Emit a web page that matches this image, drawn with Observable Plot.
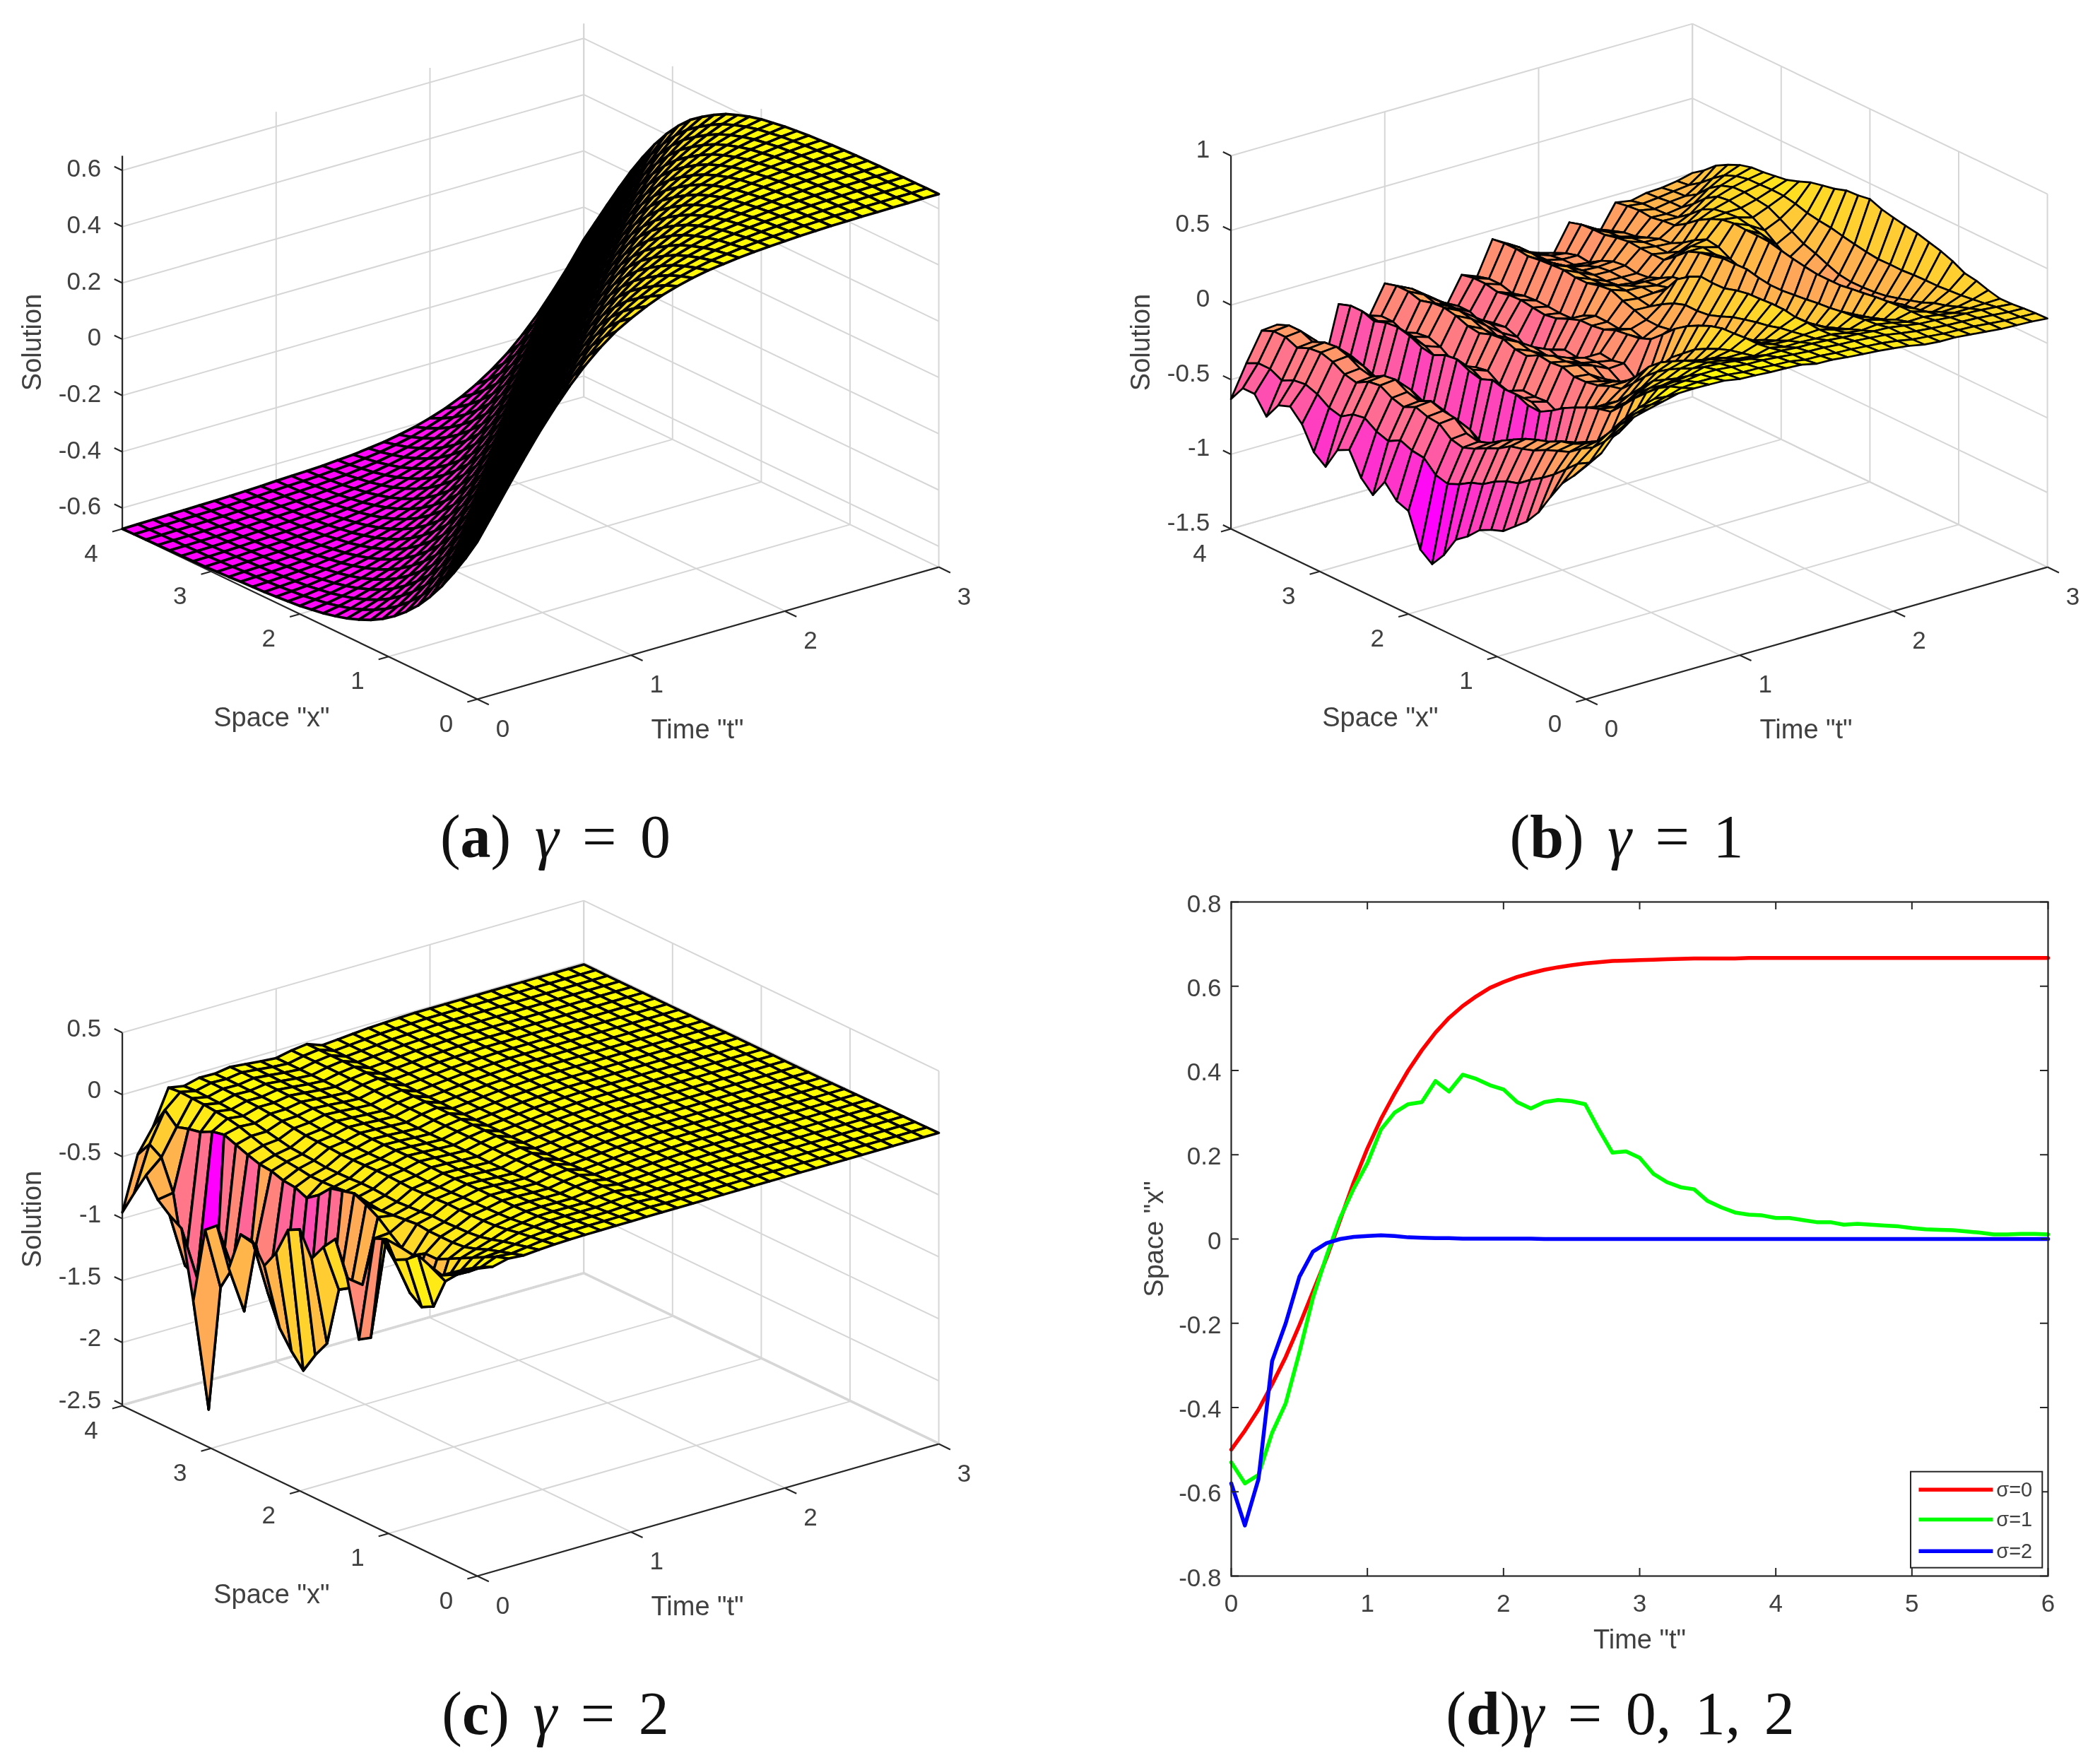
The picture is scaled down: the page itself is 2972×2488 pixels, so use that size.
<!DOCTYPE html>
<html><head><meta charset="utf-8">
<script src="https://cdn.jsdelivr.net/npm/d3@7"></script>
<script src="https://cdn.jsdelivr.net/npm/@observablehq/plot@0.6"></script>
<style>
html,body{margin:0;padding:0;background:#fff}
#page{position:relative;width:2972px;height:2488px;overflow:hidden;background:#fff}
#page svg{position:absolute;overflow:visible;filter:blur(.6px)}
.cap{position:absolute;transform:translate(-50%,-50%);font-family:"Liberation Serif",serif;font-size:86px;color:#111;white-space:nowrap;word-spacing:12px}
</style></head><body><div id="page"></div>
<script>
// Values below are estimates. The 31x31 surfaces are assembled from
// these read profiles (edge rows, wave-front profile, ridge offsets), not from every vertex.
const tTicks=[0,1,2,3], xTicks=[0,1,2,3,4];
const zTicksA=[-0.6,-0.4,-0.2,0,0.2,0.4,0.6], zTicksB=[-1.5,-1,-0.5,0,0.5,1], zTicksC=[-2.5,-2,-1.5,-1,-0.5,0,0.5];

// (a) height along the travelling front, indexed by t-index minus x-index
const frontA=[-.674,-.673,-.672,-.671,-.670,-.669,-.668,-.667,-.665,-.663,-.660,-.658,-.656,-.653,-.649,-.645,-.638,-.631,-.621,-.609,-.593,-.574,-.550,-.520,-.484,-.442,-.391,-.333,-.266,-.194,-.115,-.033,.050,.131,.209,.280,.345,.402,.451,.492,.523,.55,.573,.590,.604,.615,.622,.629,.634,.638,.641,.644,.646,.648,.649,.650,.650,.651,.651,.652,.652];

// (b) ridge level per time step (x=4 edge), first row (t=0), front profile and weights
const ridgeB=[-.63,-.42,-.23,-.22,-.32,-.45,-.6,-.2,-.3,-.34,-.15,-.2,-.28,-.36,-.42,-.24,-.28,-.06,-.12,-.2,-.24,-.27,-.1,-.18,-.26,-.08,-.12,-.1,-.09,-.07,0];
const firstRowB=[.06,-.04,-.13,-.26,-.40,-.50,-.57,-.64,-.67,-.71,-.79,-.85,-.99,-1.09,-1.03,-.81,-.78,-.69,-.817,-.74,-.59,-.63,-.78,-.72,-.57,-.49,-.52,-.634,-.52,-.52,-.63];
const ridgeWeightB=[1,1,1,1,1,1,1,1,1,1,1,1,1,1,1,1,1,1,1,1,1,1,.95,.9,.85,.75,.65,.55,.45,.35,.28,.22,.18,.14,.12,.1,.08,.07,.06,.05,.05,.04,.04,.03,.03,.03,.02,.02,.02,.02,.02,.02,.02,.02,.01,.01,.01,.01,.01,.01,.01];
const frontB=[0,0,0,0,0,0,0,0,0,0,0,0,0,0,0,0,0,0,0,0,0,0,0,.01,.01,.01,.01,.01,.0,.0,0,.05,.12,.17,.2,.22,.23,.24,.235,.225,.215,.21,.2,.19,.18,.175,.165,.16,.15,.14,.125,.11,.10,.09,.085,.08,.07,.06,.055,.05,.04];
const rowWeightB=[1,.35,.3,.3,.35,.45,.6,.25,.3,.35,.2,.2,.25,.3,.35,.15,.2,.1,.12,.15,.18,.2,.08,.1,.12,.06,.06,.05,.05,.05,.05];
const nearEdgeB=[.12,.11,.1,.09,.07,.06,.05,.04,.03,.02,.01,0,0,0,0,0,0,0,0,0,0,0,0,0,0,0,0,0,0,0,0];
const swellB=[0,0,0,0,0,0,0,0,0,0,-.1,-.05,-.15,-.2,-.1,0,-.15,-.25,-.1,.05,-.1,-.2,-.05,-.15,-.25,-.05,-.15,-.3,-.2,-.04,.2];
const swellAcrossB=[0,0,0,0,.05,.15,.3,.4,.6,.75,.85,.95,1,1.05,1.1,1.15,1.05,.95,.8,.65,.5,.3,.15,.05,0,0,0,0,0,0,0];
const swellFrontB=[0,0,0,0,0,0,0,0,0,0,0,0,0,0,0,0,0,0,0,0,0,0,0,0,0,0,0,0,.1,.2,.35,.5,.65,.8,.9,1,1,1,1,1,1,1,1,1,1,1,1,1,1,1,1,1,1,1,1,1,1,1,1,1,1];

// (c) first rows, read vertex by vertex, then plateau levels
const row0C=[-.03,-.08,-.15,-.22,-.19,-.15,-.23,-.28,-.16,-1.0,-1.06,-.61,-.34,-.45,-.59,-.40,-.45,-.68,-.83,-.68,-.67,-.99,-.69,-.77,-1.39,-.85,-.79,-.71,-.56,-.75,-.95];
const row1C=[-.05,-.1,-.18,-.25,-.35,-.6,-.65,-.58,-.42,-.24,-.28,-.7,-.77,-.83,-1.31,-1.45,-1.62,-1.51,-1.37,-1.13,-.79,-1.37,-1.07,-1.27,-2.3,-1.28,-1.23,-.69,-.45,-.39,-.52];
const row2C=[-.02,-.05,-.1,-.15,-.2,-.25,-.3,-.3,-.36,-.345,-.27,-.19,-.135,-.09,-.115,-.14,-.24,-.31,-.27,-.26,-.23,-.22,-.19,-.155,-.12,-.14,-.19,-.21,-.24,-.15,-.33];
const row3C=[-.03,-.06,-.09,-.12,-.16,-.19,-.2,-.2,-.2,-.19,-.2,-.21,-.22,-.21,-.2,-.2,-.21,-.215,-.215,-.2,-.19,-.18,-.15,-.12,-.09,-.07,-.06,-.05,-.045,-.04,-.05];
const plateauC=[0,0,0,0,-.04,-.02,-.03,-.015,-.03,-.045,-.055,-.03,-.015,-.06,-.05,-.04,-.03,-.025,-.02,-.015,-.015,-.015,-.015,-.015,-.015,-.015,-.015,-.015,-.015,-.015,-.015];
const fadeC=[1,1,1,1,.65,.42,.28,.2,.15,.12,.1,.08,.06,.05,.04,.03,.02,.01,0,0,0,0,0,0,0,0,0,0,0,0,0];
const plateauAcrossC=[0,.1,.2,.3,.4,.5,.6,.7,.8,.9,1,1,1,1,1,1,1,1,1,1,1,1,1,1,1,1,1,1,1,1,1];

// (d) curves at t = 0, 0.1, ... 6
const sigma0=[-.5,-.455,-.405,-.345,-.28,-.205,-.125,-.045,.045,.135,.215,.285,.345,.40,.448,.49,.525,.553,.576,.596,.61,.622,.631,.639,.645,.65,.654,.657,.66,.661,.662,.663,.664,.665,.666,.666,.666,.666,.667,.667,.667,.667,.667,.667,.667,.667,.667,.667,.667,.667,.667,.667,.667,.667,.667,.667,.667,.667,.667,.667,.667];
const sigma1=[-.53,-.58,-.56,-.46,-.39,-.27,-.14,-.04,.05,.12,.18,.26,.30,.32,.325,.375,.35,.39,.38,.365,.355,.325,.31,.325,.33,.327,.32,.26,.205,.208,.193,.155,.135,.123,.118,.09,.075,.063,.058,.056,.05,.05,.045,.04,.04,.034,.036,.034,.032,.03,.026,.023,.022,.021,.018,.015,.011,.011,.012,.012,.011];
const sigma2=[-.58,-.68,-.57,-.29,-.2,-.09,-.03,-.01,0,.005,.007,.009,.007,.004,.003,.002,.002,.001,.001,.001,.001,.001,.001,0,0,0,0,0,0,0,0,0,0,0,0,0,0,0,0,0,0,0,0,0,0,0,0,0,0,0,0,0,0,0,0,0,0,0,0,0,0];
const timesD=sigma0.map((_,i)=>i/10);
const xTicksD=[0,1,2,3,4,5,6], yTicksD=[-.8,-.6,-.4,-.2,0,.2,.4,.6,.8];
const legendNames=["σ=0","σ=1","σ=2"], legendColors=["#ff0000","#00ff00","#0000ff"], legendLevels=[-.595,-.666,-.741];

const N=30, FONT='"Liberation Sans",Arial,sans-serif', INK="#404040", AXIS="#262626", GRID="#d6d6d6";
const surfA=(i,j)=>frontA[i-j+N];
const baseB=(i,j)=>ridgeB[i]*ridgeWeightB[i-j+N]+frontB[i-j+N]+nearEdgeB[j]+swellB[i]*swellAcrossB[j]*swellFrontB[i-j+N];
const surfB=(i,j)=>baseB(i,j)+rowWeightB[i]*(firstRowB[j]-baseB(0,j));
const surfC=(i,j)=>i==0?row0C[j]:i==1?row1C[j]:i==2?row2C[j]:i==3?row3C[j]:plateauC[i]*plateauAcrossC[j]+fadeC[i]*row3C[j];

const G={ox:675,oy:989,tx:217.7,ty:-62.3,xx:-125.6,xy:-60.25,zh:528};
const W3=1400,H3=1200;

function panel3d({left,top,zlo,zhi,zTicks,surf,mesh,zdy}){
  const P=(t,x,z)=>[G.ox+G.tx*t+G.xx*x, G.oy+G.ty*t+G.xy*x-G.zh*(z-zlo)/(zhi-zlo)];
  const seg=(a,b)=>{const p=P(...a),q=P(...b);return {x1:p[0],y1:p[1],x2:q[0],y2:q[1]};};
  const grid=[], axes=[];
  for(const t of tTicks){grid.push(seg([t,0,zlo],[t,4,zlo]));grid.push(seg([t,4,zlo],[t,4,zhi]));axes.push(seg([t,0,zlo],[t,-.13,zlo]));}
  for(const x of xTicks){grid.push(seg([0,x,zlo],[3,x,zlo]));grid.push(seg([3,x,zlo],[3,x,zhi]));axes.push(seg([0,x,zlo],[-.065,x,zlo]));}
  for(const z of zTicks){grid.push(seg([0,4,z],[3,4,z]));grid.push(seg([3,4,z],[3,0,z]));axes.push(seg([0,4,z],[0,4.09,z]));}
  axes.push(seg([0,4,zlo],[0,4,zhi]),seg([0,0,zlo],[0,4,zlo]),seg([0,0,zlo],[3,0,zlo]));
  const verts=[]; let id=0, cmin=Infinity, cmax=-Infinity;
  for(let i=0;i<=N;i++)for(let j=0;j<=N;j++){const v=surf(i,j);cmin=Math.min(cmin,v);cmax=Math.max(cmax,v);}
  for(let i=N-1;i>=0;i--)for(let j=N-1;j>=0;j--){
    const c=surf(i,j); id++;
    for(const [a,b] of [[i,j],[i+1,j],[i+1,j+1],[i,j+1]]){
      const p=P(a/10,b*4/30,surf(a,b)); verts.push({cell:id,px:p[0],py:p[1],c});
    }
  }
  const lab=(arr,fn,opt)=>Plot.text(arr,{x:d=>fn(d)[0],y:d=>fn(d)[1],text:d=>String(d),fontSize:35,fill:INK,...opt});
  const svg=Plot.plot({width:W3,height:H3,margin:0,
    x:{domain:[0,W3],range:[0,W3],axis:null},y:{domain:[0,H3],range:[0,H3],axis:null},
    color:{type:"linear",domain:[cmin,cmax],range:["#ff00ff","#ffff00"],interpolate:"rgb"},
    style:{background:"transparent",fontFamily:FONT},
    marks:[
      Plot.link(grid,{x1:"x1",y1:"y1",x2:"x2",y2:"y2",stroke:GRID,strokeWidth:2}),
      Plot.link(axes,{x1:"x1",y1:"y1",x2:"x2",y2:"y2",stroke:AXIS,strokeWidth:2.2}),
      Plot.line(verts,{x:"px",y:"py",z:"cell",fill:"c",stroke:"#000",strokeWidth:mesh,curve:"linear-closed"}),
      lab(xTicks,d=>P(0,d,zlo),{dx:-44,dy:35}),
      lab(tTicks,d=>P(d,0,zlo),{dx:36,dy:42}),
      lab(zTicks,d=>P(0,4,d),{dx:-30,dy:zdy,textAnchor:"end"}),
      Plot.text(['Space "x"'],{x:()=>P(0,2,zlo)[0],y:()=>P(0,2,zlo)[1],dx:-40,dy:147,fontSize:38,fill:INK}),
      Plot.text(['Time "t"'],{x:()=>P(1.5,0,zlo)[0],y:()=>P(1.5,0,zlo)[1],dx:-15,dy:137,fontSize:38,fill:INK}),
      Plot.text(["Solution"],{x:()=>45,y:()=>484,rotate:-90,fontSize:38,fill:INK})
    ]});
  svg.style.left=left+"px"; svg.style.top=top+"px";
  document.getElementById("page").appendChild(svg);
}
panel3d({left:0,top:0,zlo:-.674,zhi:.652,zTicks:zTicksA,surf:surfA,mesh:3.7,zdy:-2});
panel3d({left:1569,top:0,zlo:-1.5,zhi:1,zTicks:zTicksB,surf:surfB,mesh:2.7,zdy:-9});
panel3d({left:0,top:1241,zlo:-2.51,zhi:.5,zTicks:zTicksC,surf:surfC,mesh:3.6,zdy:-6});

// (d)
const ml=256,mr=74,mt=32,mb=258,wd=1486,hd=1244,innerH=hd-mt-mb,innerW=wd-ml-mr;
const lineOf=(v,c)=>Plot.line(timesD,{x:d=>d,y:(d,i)=>v[i],stroke:c,strokeWidth:5.5});
const svgD=Plot.plot({width:wd,height:hd,marginLeft:ml,marginRight:mr,marginTop:mt,marginBottom:mb,
  x:{domain:[0,6]},y:{domain:[-.8,.8]},style:{background:"transparent",fontFamily:FONT},
  marks:[
    lineOf(sigma0,legendColors[0]),lineOf(sigma1,legendColors[1]),lineOf(sigma2,legendColors[2]),
    Plot.tickX(xTicksD,{x:d=>d,insetTop:innerH-11,stroke:AXIS,strokeWidth:2}),
    Plot.tickX(xTicksD,{x:d=>d,insetBottom:innerH-11,stroke:AXIS,strokeWidth:2}),
    Plot.tickY(yTicksD,{y:d=>d,insetLeft:innerW-11,stroke:AXIS,strokeWidth:2}),
    Plot.tickY(yTicksD,{y:d=>d,insetRight:innerW-11,stroke:AXIS,strokeWidth:2}),
    Plot.axisX({ticks:xTicksD,tickSize:0,tickPadding:26,fontSize:35,label:null,tickFormat:d=>String(d),color:INK}),
    Plot.axisY({ticks:yTicksD,tickSize:0,tickPadding:14,dy:3,fontSize:35,label:null,tickFormat:d=>String(d),color:INK}),
    Plot.frame({stroke:AXIS,strokeWidth:2.2}),
    Plot.rect([0],{x1:()=>4.993,x2:()=>5.96,y1:()=>-.553,y2:()=>-.781,fill:"#fff",stroke:AXIS,strokeWidth:2}),
    Plot.link(legendLevels,{x1:()=>5.05,x2:()=>5.595,y1:d=>d,y2:d=>d,stroke:(d,i)=>legendColors[i],strokeWidth:5.5}),
    Plot.text(legendLevels,{x:()=>5.62,y:d=>d,text:(d,i)=>legendNames[i],textAnchor:"start",fontSize:29,fill:INK}),
    Plot.text(['Space "x"'],{frameAnchor:"left",textAnchor:"middle",dx:-109,rotate:-90,fontSize:38,fill:INK}),
    Plot.text(['Time "t"'],{frameAnchor:"bottom",dy:102,fontSize:38,fill:INK})
  ],
  color:{type:"identity"}});
svgD.style.left="1486px"; svgD.style.top="1244px";
document.getElementById("page").appendChild(svgD);

// captions
const caps=[[786,1184,'(<b>a</b>) <i>γ</i> = 0'],[2302,1184,'(<b>b</b>) <i>γ</i> = 1'],[786,2425,'(<b>c</b>) <i>γ</i> = 2'],[2293,2425,'(<b>d</b>)<i>γ</i> = 0, 1, 2']];
for(const [x,y,h] of caps){const d=document.createElement("div");d.className="cap";d.style.left=x+"px";d.style.top=y+"px";d.innerHTML=h;document.getElementById("page").appendChild(d);}
</script></body></html>
